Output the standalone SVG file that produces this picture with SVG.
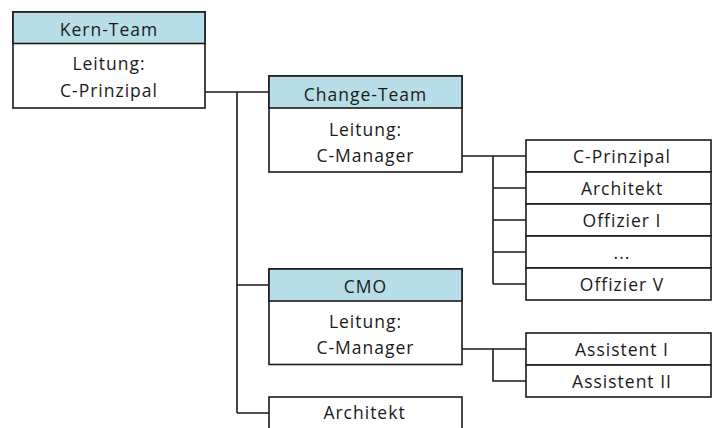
<svg xmlns="http://www.w3.org/2000/svg" width="712" height="428" viewBox="0 0 712 428">
<style>
.box{fill:#ffffff;stroke:#1a1a1a;stroke-width:1.6}
.hdr{fill:#b7dee8;stroke:#1a1a1a;stroke-width:1.6}
.ln{fill:none;stroke:#1a1a1a;stroke-width:1.6}
text{font-family:"Open Sans","Liberation Sans",sans-serif;font-size:17.5px;fill:#1a1a1a;text-anchor:middle;letter-spacing:1px}
</style>
<rect width="712" height="428" fill="#ffffff"/>
<g id="connectors">
<path class="ln" d="M205,92 H269 M237,92 V413 M237,285 H269 M237,413 H269"/>
<path class="ln" d="M462,156 H526 M493,156 V284 M493,188 H526 M493,220 H526 M493,252 H526 M493,284 H526"/>
<path class="ln" d="M462,349 H526 M493,349 V381 H526"/>
</g>
<g id="kern-team">
<rect class="box" x="13" y="12" width="192" height="96"/>
<rect class="hdr" x="13" y="12" width="192" height="31.5"/>
<text x="109" y="36">Kern-Team</text>
<text x="109" y="70">Leitung:</text>
<text x="109" y="97">C-Prinzipal</text>
</g>
<g id="change-team">
<rect class="box" x="269" y="76" width="193" height="96"/>
<rect class="hdr" x="269" y="76" width="193" height="32"/>
<text x="365.5" y="100.5">Change-Team</text>
<text x="365.5" y="135.5">Leitung:</text>
<text x="365.5" y="162">C-Manager</text>
</g>
<g id="cmo">
<rect class="box" x="269" y="269" width="193" height="95.5"/>
<rect class="hdr" x="269" y="269" width="193" height="32"/>
<text x="365.5" y="292.5">CMO</text>
<text x="365.5" y="327.5">Leitung:</text>
<text x="365.5" y="354">C-Manager</text>
</g>
<g id="architekt-main">
<rect class="box" x="269" y="397" width="193" height="40"/>
<text x="364.5" y="419">Architekt</text>
</g>
<g id="change-members">
<rect class="box" x="526" y="140" width="185" height="32"/>
<rect class="box" x="526" y="172" width="185" height="32"/>
<rect class="box" x="526" y="204" width="185" height="32"/>
<rect class="box" x="526" y="236" width="185" height="32"/>
<rect class="box" x="526" y="268" width="185" height="32"/>
<text x="622" y="163">C-Prinzipal</text>
<text x="622" y="195">Architekt</text>
<text x="622" y="227">Offizier I</text>
<text x="622" y="259">...</text>
<text x="622" y="291">Offizier V</text>
</g>
<g id="cmo-members">
<rect class="box" x="526" y="333" width="185" height="32"/>
<rect class="box" x="526" y="365" width="185" height="32"/>
<text x="622" y="356">Assistent I</text>
<text x="622" y="388">Assistent II</text>
</g>
</svg>
